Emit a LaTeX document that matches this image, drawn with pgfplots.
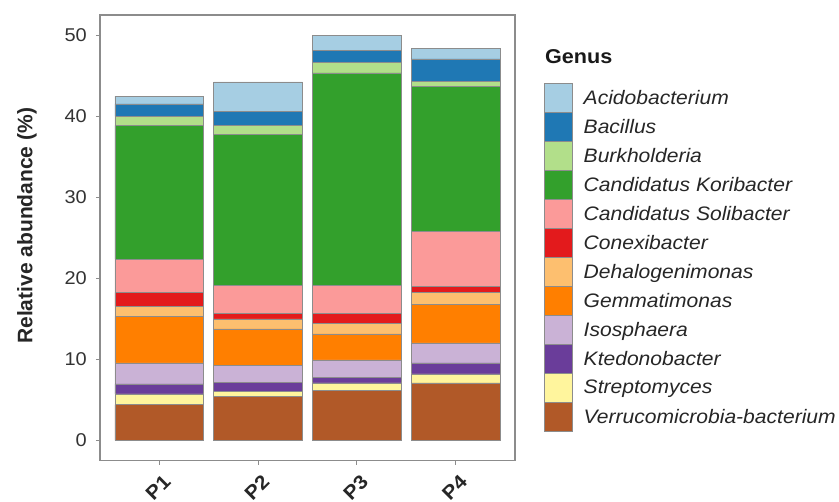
\documentclass[border=0pt]{standalone}
\usepackage{fontspec}
\setmainfont{Liberation Sans}[FakeStretch=1.08]
\newfontfamily\ylabfont{Liberation Sans}
\usepackage{pgfplots}
\pgfplotsset{compat=1.18}
\usepackage{pgfplotstable}
\definecolor{cAcido}{HTML}{A6CEE3}
\definecolor{cBac}{HTML}{1F78B4}
\definecolor{cBurk}{HTML}{B2DF8A}
\definecolor{cCandK}{HTML}{33A02C}
\definecolor{cSoli}{HTML}{FB9A99}
\definecolor{cConex}{HTML}{E31A1C}
\definecolor{cDehalo}{HTML}{FDBF6F}
\definecolor{cGemm}{HTML}{FF7F00}
\definecolor{cIso}{HTML}{CAB2D6}
\definecolor{cKted}{HTML}{6A3D9A}
\definecolor{cStrep}{HTML}{FFF59D}
\definecolor{cVerr}{HTML}{B15928}
\definecolor{frame}{HTML}{8C8C8C}
\pgfplotstableread{
x Verr Strep Kted Iso Gemm Dehalo Conex Soli CandK Burk Bac Acido
0 4.43 1.32 1.23 2.59 5.74 1.23 1.72 4.12 16.50 1.14 1.52 0.95
1 5.42 0.61 1.15 2.06 4.52 1.23 0.69 3.49 18.60 1.15 1.72 3.61
2 6.16 0.95 0.69 2.14 3.20 1.31 1.23 3.49 26.19 1.31 1.45 1.88
3 7.11 1.10 1.36 2.46 4.72 1.51 0.74 6.78 17.94 0.61 2.75 1.28
}\data
\begin{document}
\begin{tikzpicture}
\useasboundingbox (-100bp,-41.3bp) rectangle (739bp,460.7bp);
\begin{axis}[
  at={(0,0)}, anchor=south west,
  width=415bp, height=445.7bp, scale only axis,
  ybar stacked, bar width=0.9,
  xmin=-0.6, xmax=3.6, ymin=-2.5, ymax=52.5,
  xtick={0,1,2,3}, xticklabels={P1,P2,P3,P4},
  ytick={0,10,20,30,40,50},
  xtick pos=left, ytick pos=left,
  tick align=outside, major tick length=4bp,
  tick style={frame, line width=1bp},
  axis line style={frame, line width=1.3bp},
  clip=false,
  /pgf/number format/assume math mode=true,
  yticklabel style={font=\fontsize{18.5bp}{22bp}\selectfont, inner sep=0pt, xshift=-9bp, text=black!80},
  xticklabel style={font=\bfseries\fontsize{19.5bp}{22bp}\selectfont, inner sep=0pt, xshift=8bp, yshift=-14bp, rotate=45, anchor=east, text=black!85},
  ylabel={\ylabfont\bfseries Relative abundance (\%)},
  ylabel style={at={(axis description cs:-0.176,0.527)}, anchor=center, font=\fontsize{21bp}{24bp}\selectfont, text=black!85},
  legend style={at={(axis description cs:1.0699,0.8468)}, anchor=north west, draw=none, fill=none,
    inner sep=0pt, outer sep=0pt, row sep=0pt, column sep=11bp,
    nodes={inner sep=0pt, outer sep=0pt},
    font=\itshape\fontsize{19.5bp}{22bp}\selectfont, text=black!85},
  legend cell align=left, reverse legend,
  legend image code/.code={\draw[#1, draw=frame, line width=0.7bp] (0bp,-14.15bp) rectangle (28bp,14.15bp);},
  every axis plot/.append style={draw=frame, line width=0.6bp},
]
\addplot[fill=cVerr, draw=frame] table[x=x,y=Verr]{\data};
\addplot[fill=cStrep, draw=frame] table[x=x,y=Strep]{\data};
\addplot[fill=cKted, draw=frame] table[x=x,y=Kted]{\data};
\addplot[fill=cIso, draw=frame] table[x=x,y=Iso]{\data};
\addplot[fill=cGemm, draw=frame] table[x=x,y=Gemm]{\data};
\addplot[fill=cDehalo, draw=frame] table[x=x,y=Dehalo]{\data};
\addplot[fill=cConex, draw=frame] table[x=x,y=Conex]{\data};
\addplot[fill=cSoli, draw=frame] table[x=x,y=Soli]{\data};
\addplot[fill=cCandK, draw=frame] table[x=x,y=CandK]{\data};
\addplot[fill=cBurk, draw=frame] table[x=x,y=Burk]{\data};
\addplot[fill=cBac, draw=frame] table[x=x,y=Bac]{\data};
\addplot[fill=cAcido, draw=frame] table[x=x,y=Acido]{\data};
\legend{Verrucomicrobia-bacterium, Streptomyces, Ktedonobacter, Isosphaera, Gemmatimonas, Dehalogenimonas, Conexibacter, Candidatus Solibacter, Candidatus Koribacter, Burkholderia, Bacillus, Acidobacterium}
\node[anchor=base west, inner sep=0pt, font=\bfseries\fontsize{20bp}{24bp}\selectfont, text=black!90] at (axis description cs:1.072,0.892) {Genus};
\end{axis}
\end{tikzpicture}
\end{document}
